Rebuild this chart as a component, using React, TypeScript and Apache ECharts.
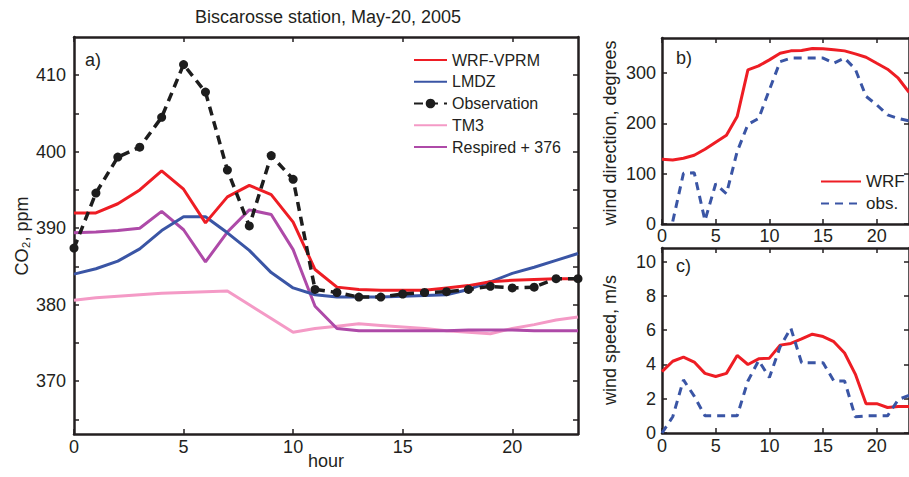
import React, { useEffect, useRef } from 'react';
import * as echarts from 'echarts';

// ---------- data ----------
const hours = [0, 1, 2, 3, 4, 5, 6, 7, 8, 9, 10, 11, 12, 13, 14, 15, 16, 17, 18, 19, 20, 21, 22, 23];

const wrfVprm = [392.0, 392.0, 393.2, 395.0, 397.5, 395.1, 390.7, 394.1, 395.6, 394.4, 390.8, 384.6, 382.3, 382.0, 381.9, 381.9, 381.9, 382.2, 382.5, 383.0, 383.2, 383.3, 383.4, 383.4];
const lmdz = [384.0, 384.7, 385.7, 387.3, 389.7, 391.5, 391.5, 389.4, 387.1, 384.2, 382.2, 381.3, 381.0, 381.0, 381.0, 381.1, 381.2, 381.3, 382.0, 383.0, 384.1, 384.9, 385.8, 386.7];
const observation = [387.4, 394.6, 399.3, 400.6, 404.5, 411.4, 407.8, 397.6, 390.3, 399.5, 396.4, 382.0, 381.6, 381.0, 381.0, 381.4, 381.6, 381.7, 382.0, 382.4, 382.2, 382.3, 383.4, 383.4];
const tm3 = [380.6, 380.9, 381.1, 381.3, 381.5, 381.6, 381.7, 381.8, 380.0, 378.2, 376.4, 376.9, 377.2, 377.5, 377.3, 377.1, 376.9, 376.6, 376.4, 376.2, 376.9, 377.4, 378.0, 378.4];
const respired = [389.4, 389.5, 389.7, 390.0, 392.2, 389.8, 385.6, 389.5, 392.4, 391.8, 387.2, 379.8, 376.9, 376.6, 376.6, 376.6, 376.6, 376.6, 376.7, 376.7, 376.7, 376.6, 376.6, 376.6];

const wrfDir = [128.7, 127.4, 130.7, 136.7, 148.6, 162.6, 176.5, 213.7, 306.6, 314.5, 326.5, 339.7, 344.4, 345.0, 349.0, 348.4, 346.4, 344.4, 338.4, 331.8, 319.8, 307.9, 290.0, 262.0];
const obsDir = [null, 5, 101, 102, 7, 80, 60, 144, 198, 210, 267, 323, 330, 330, 330, 330, 320, 330, 308, 254, 237, 217, 210, 205];

const wrfSpeed = [3.58, 4.19, 4.43, 4.14, 3.48, 3.3, 3.48, 4.53, 4.0, 4.33, 4.37, 5.13, 5.23, 5.49, 5.77, 5.63, 5.33, 4.67, 3.44, 1.71, 1.71, 1.49, 1.55, 1.55];
const obsSpeed = [0, 0.95, 3.1, 2.15, 1.0, 1.0, 1.0, 1.0, 3.04, 4.23, 3.24, 5.03, 6.12, 4.1, 4.1, 4.1, 3.04, 3.04, 0.95, 1.0, 1.0, 1.0, 1.95, 2.2];

const hourTicks = [0, 5, 10, 15, 20];
const co2Labels = [370, 380, 390, 400, 410];
const co2Ticks = [365, 370, 375, 380, 385, 390, 395, 400, 405, 410];
const dirTicks = [0, 100, 200, 300];
const speedTicks = [0, 2, 4, 6, 8, 10];

const mainNames = ['WRF-VPRM', 'LMDZ', 'Observation', 'TM3', 'Respired + 376'];
const windNames = ['WRF', 'obs.'];

// ---------- styles ----------
const FONT = 'Liberation Sans, Arial, Helvetica, sans-serif';
const AX = '#231f20';
const RED = '#ee1d24';
const BLUE = '#3a55a5';
const PINK = '#f49ac6';
const PURPLE = '#ae4aa8';
const BLACK = '#1d1d1d';

const pairs = (ys: (number | null)[]) => hours.map((h, i) => [h, ys[i]]);

function xAxisDef(gridIndex: number, position: 'bottom' | 'top', showLabels: boolean, margin: number) {
  return {
    type: 'value',
    gridIndex,
    position,
    min: 0,
    max: 23,
    axisLine: { show: true, onZero: false, lineStyle: { color: AX, width: 2.5 } },
    axisTick: { show: true, inside: true, length: 5, customValues: hourTicks, lineStyle: { color: AX, width: 1.5 } },
    axisLabel: {
      show: showLabels,
      customValues: hourTicks,
      margin,
      fontSize: 18,
      fontFamily: FONT,
      color: AX,
    },
    splitLine: { show: false },
  };
}

function yAxisDef(gridIndex: number, position: 'left' | 'right', min: number, max: number, labels: number[], ticks: number[], showLabels: boolean, margin: number) {
  return {
    type: 'value',
    gridIndex,
    position,
    min,
    max,
    axisLine: { show: true, onZero: false, lineStyle: { color: AX, width: 2.5 } },
    axisTick: { show: true, inside: true, length: 5, customValues: ticks, lineStyle: { color: AX, width: 1.5 } },
    axisLabel: {
      show: showLabels,
      customValues: labels,
      margin,
      fontSize: 18,
      fontFamily: FONT,
      color: AX,
    },
    splitLine: { show: false },
  };
}

function lineSeries(name: string, data: any[], color: string, xi: number, yi: number, extra: any = {}) {
  return {
    type: 'line',
    name,
    data,
    xAxisIndex: xi,
    yAxisIndex: yi,
    symbol: 'none',
    lineStyle: { color, width: 3 },
    itemStyle: { color },
    ...extra,
  };
}

function text(t: string, x: number, y: number, size: number, opts: any = {}) {
  return {
    type: 'text',
    x,
    y,
    rotation: opts.rotation || 0,
    style: {
      text: t,
      fill: AX,
      fontSize: size,
      fontFamily: FONT,
      align: opts.align || 'center',
      verticalAlign: 'middle',
    },
  };
}

// legend entries: hide the marker for series drawn without markers
const legendItems = (names: string[], withMarker: string[]) =>
  names.map((n) => (withMarker.includes(n) ? { name: n } : { name: n, itemStyle: { opacity: 0 } }));

export default function App() {
  const ref = useRef<HTMLDivElement>(null);

  useEffect(() => {
    if (!ref.current) return;
    const chart = echarts.init(ref.current, null, { renderer: 'svg' });

    const option: any = {
      animation: false,
      backgroundColor: '#ffffff',
      grid: [
        { left: 74, top: 37, width: 504, height: 397 },
        { left: 662, top: 38, width: 256.5, height: 186 },
        { left: 662, top: 248, width: 256.5, height: 185 },
      ],
      xAxis: [
        xAxisDef(0, 'bottom', true, 4),
        xAxisDef(0, 'top', false, 4),
        xAxisDef(1, 'bottom', true, 3),
        xAxisDef(1, 'top', false, 3),
        xAxisDef(2, 'bottom', true, 4),
        xAxisDef(2, 'top', false, 4),
      ],
      yAxis: [
        yAxisDef(0, 'left', 363.1, 415, co2Labels, co2Ticks, true, 8),
        yAxisDef(0, 'right', 363.1, 415, co2Labels, co2Ticks, false, 8),
        yAxisDef(1, 'left', 0, 370, dirTicks, dirTicks, true, 6),
        yAxisDef(1, 'right', 0, 370, dirTicks, dirTicks, false, 6),
        yAxisDef(2, 'left', 0, 10.8, speedTicks, speedTicks, true, 6),
        yAxisDef(2, 'right', 0, 10.8, speedTicks, speedTicks, false, 6),
      ],
      legend: [
        {
          data: legendItems(mainNames, ['Observation']),
          orient: 'vertical',
          left: 413,
          top: 52,
          padding: 0,
          itemWidth: 33,
          itemHeight: 12,
          itemGap: 5.75,
          textStyle: { fontSize: 16, fontFamily: FONT, color: AX },
        },
        {
          data: legendItems(windNames, []),
          orient: 'vertical',
          left: 820,
          top: 173,
          padding: 0,
          itemWidth: 40,
          itemHeight: 12,
          itemGap: 5,
          textStyle: { fontSize: 17, fontFamily: FONT, color: AX },
        },
      ],
      graphic: [
        text('Biscarosse station, May-20, 2005', 328, 17, 18),
        text('hour', 326, 461, 18),
        text('CO\u2082, ppm', 22, 236, 18, { rotation: Math.PI / 2 }),
        text('wind direction, degrees', 610, 133, 18, { rotation: Math.PI / 2 }),
        text('wind speed, m/s', 610, 340, 18, { rotation: Math.PI / 2 }),
        text('a)', 85, 60, 18, { align: 'left' }),
        text('b)', 676, 58, 18, { align: 'left' }),
        text('c)', 676, 266, 18, { align: 'left' }),
      ],
      series: [
        lineSeries('TM3', pairs(tm3), PINK, 0, 0),
        lineSeries('Respired + 376', pairs(respired), PURPLE, 0, 0),
        lineSeries('LMDZ', pairs(lmdz), BLUE, 0, 0),
        lineSeries('WRF-VPRM', pairs(wrfVprm), RED, 0, 0),
        lineSeries('Observation', pairs(observation), BLACK, 0, 0, {
          symbol: 'circle',
          symbolSize: 9,
          showSymbol: true,
          lineStyle: { color: BLACK, width: 3.5, type: [9, 6] },
        }),
        lineSeries('WRF', pairs(wrfDir), RED, 2, 2),
        lineSeries('obs.', pairs(obsDir), BLUE, 2, 2, { lineStyle: { color: BLUE, width: 3, type: [8, 6] } }),
        lineSeries('WRF', pairs(wrfSpeed), RED, 4, 4),
        lineSeries('obs.', pairs(obsSpeed), BLUE, 4, 4, { lineStyle: { color: BLUE, width: 3, type: [8, 6] } }),
      ],
    };

    chart.setOption(option);
    return () => chart.dispose();
  }, []);

  return (
    <div
      ref={ref}
      style={{ position: 'fixed', left: 0, top: 0, width: 909, height: 477, background: '#fff' }}
    />
  );
}
